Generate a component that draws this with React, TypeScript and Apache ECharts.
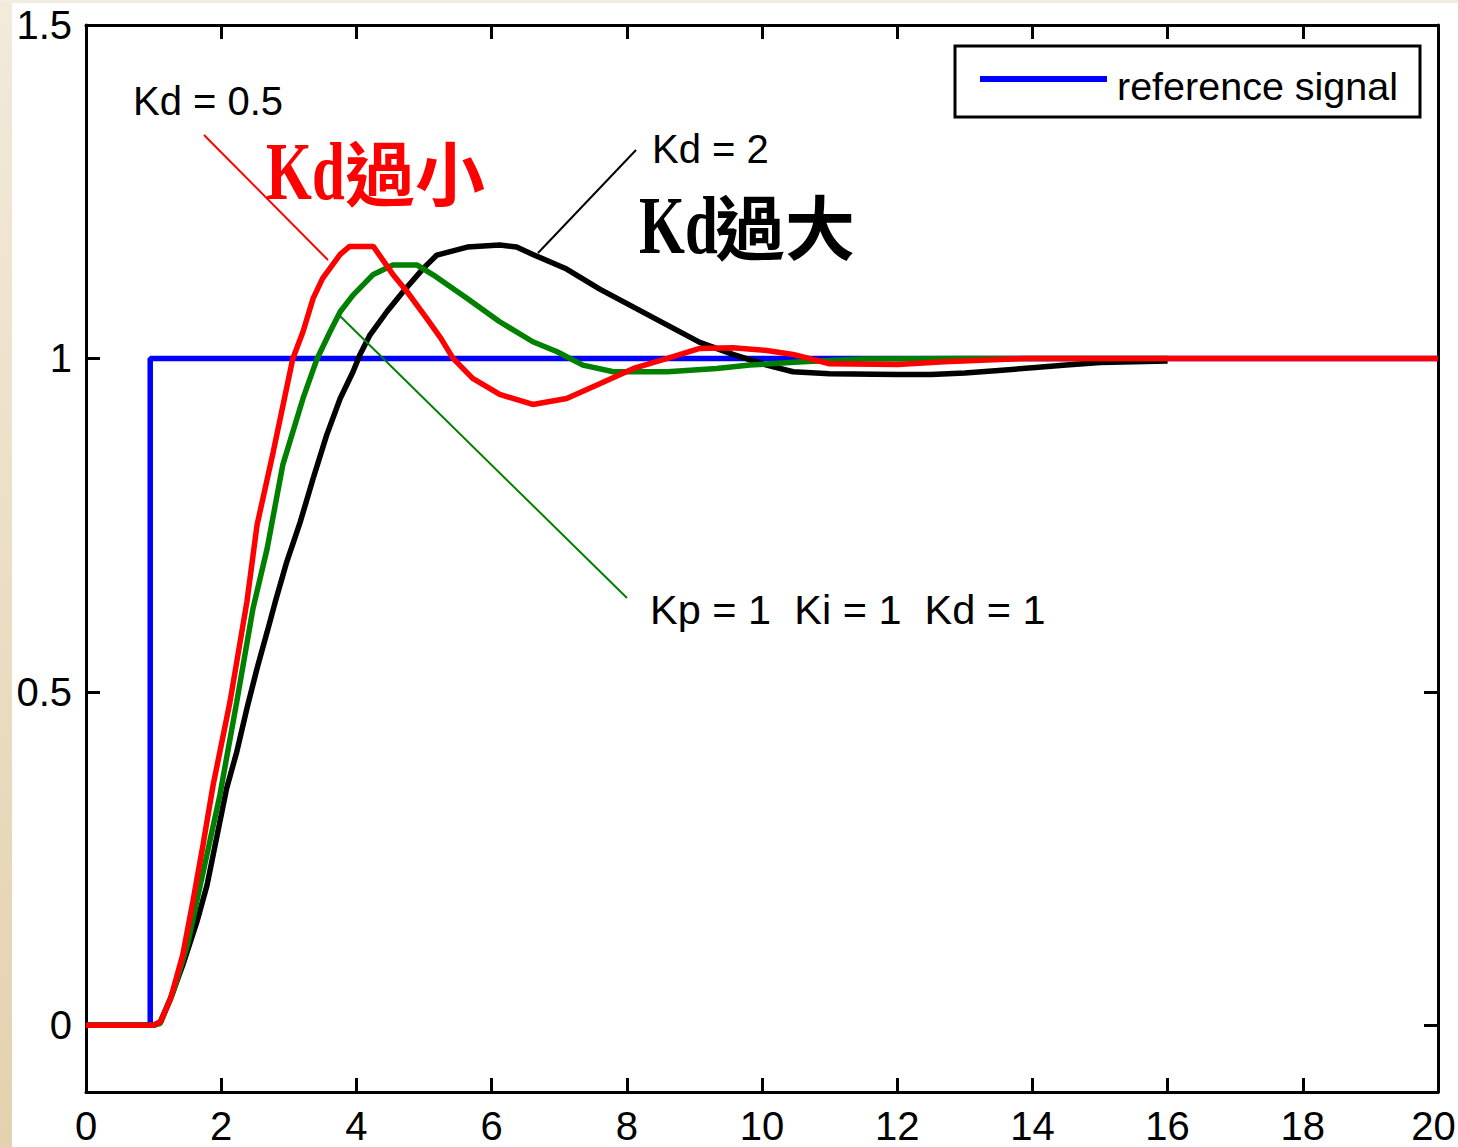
import React, { useEffect, useRef } from "react";
import * as echarts from "echarts";

// ---- data ----
const yTickValues = [0, 0.5, 1, 1.5];
const yTickLabels = ["0", "0.5", "1", "1.5"];

const refT = [0, 0.95, 0.95, 20];
const refV = [0, 0, 1, 1];

// Kd = 0.5 (red)
const kd05T = [0, 1, 1.1, 1.25, 1.43, 1.58, 1.73, 1.88, 2.13, 2.38, 2.53, 2.77, 3.06, 3.21, 3.36, 3.5, 3.76, 3.9, 4.25, 4.54, 4.75, 5.04, 5.25, 5.43, 5.72, 6.12, 6.61, 7.11, 7.6, 8.1, 8.6, 9.08, 9.57, 10.07, 10.46, 11, 12, 12.7, 13.9, 16, 20];
const kd05V = [0, 0, 0.005, 0.04, 0.105, 0.185, 0.27, 0.36, 0.485, 0.635, 0.75, 0.86, 1.0, 1.04, 1.09, 1.12, 1.156, 1.168, 1.168, 1.126, 1.1, 1.06, 1.03, 1.0, 0.97, 0.946, 0.931, 0.94, 0.962, 0.985, 1.0, 1.015, 1.016, 1.012, 1.006, 0.992, 0.991, 0.995, 1.0, 1.0, 1.0];

// Kd = 1 (green)
const kd1T = [0, 1, 1.1, 1.29, 1.5, 1.69, 1.98, 2.23, 2.47, 2.68, 2.91, 3.21, 3.42, 3.61, 3.76, 3.95, 4.25, 4.54, 4.9, 5.14, 5.64, 6.12, 6.61, 6.97, 7.35, 7.8, 8.6, 9.33, 9.82, 10.6, 11.5, 13, 16];
const kd1V = [0, 0, 0.003, 0.05, 0.12, 0.21, 0.345, 0.485, 0.625, 0.715, 0.84, 0.94, 1.0, 1.04, 1.07, 1.095, 1.126, 1.14, 1.14, 1.125, 1.09, 1.055, 1.025, 1.01, 0.99, 0.98, 0.98, 0.985, 0.99, 0.995, 0.999, 1.0, 1.0];

// Kd = 2 (black)
const kd2T = [0, 1, 1.1, 1.25, 1.43, 1.64, 1.79, 1.94, 2.08, 2.23, 2.38, 2.53, 2.68, 2.8, 2.97, 3.17, 3.36, 3.56, 3.76, 3.95, 4.05, 4.2, 4.45, 4.69, 4.99, 5.19, 5.64, 6.12, 6.37, 6.61, 7.11, 7.6, 8.1, 8.6, 9.08, 9.57, 10.07, 10.46, 11, 12, 12.5, 13, 13.5, 14, 14.5, 15, 16];
const kd2V = [0, 0, 0.005, 0.04, 0.09, 0.155, 0.21, 0.285, 0.355, 0.41, 0.475, 0.535, 0.59, 0.635, 0.695, 0.755, 0.82, 0.885, 0.94, 0.98, 1.005, 1.035, 1.07, 1.1, 1.135, 1.155, 1.167, 1.17, 1.167, 1.156, 1.134, 1.104, 1.077, 1.05, 1.024, 1.006, 0.99, 0.98, 0.977, 0.976, 0.976, 0.978, 0.982, 0.986, 0.99, 0.994, 0.996];

const zip = (t: number[], v: number[]) => t.map((x, i) => [x, v[i]]);

const FONT = "'Liberation Sans', Arial, sans-serif";
const X_MAX = 20;

export default function App() {
  const ref = useRef<HTMLDivElement>(null);
  useEffect(() => {
    if (!ref.current) return;
    const chart = echarts.init(ref.current, undefined, { renderer: "svg" });
    const axisLine = { show: true, onZero: false, lineStyle: { color: "#000", width: 3 } };
    const tick = { show: true, inside: true, length: 14, lineStyle: { color: "#000", width: 3 } };
    const lineSeries = (name: string, data: number[][], color: string, z: number) => ({
      name,
      type: "line",
      data,
      showSymbol: false,
      symbol: "none",
      z,
      lineStyle: { color, width: 5.5 },
      itemStyle: { color },
    });
    chart.setOption({
      animation: false,
      backgroundColor: "#ffffff",
      grid: { left: 86, right: 20, top: 25, bottom: 55, containLabel: false, outerBoundsMode: "none" },
      xAxis: [
        {
          type: "value", min: 0, max: X_MAX, interval: 2, position: "bottom",
          axisLine, axisTick: tick,
          axisLabel: {
            color: "#000", fontSize: 40, fontFamily: FONT, margin: 14, showMinLabel: true, showMaxLabel: true,
            formatter: (v: number) => (v === X_MAX ? `{last|${v}}` : String(v)),
            rich: { last: { color: "#000", fontSize: 40, fontFamily: FONT, padding: [0, 9, 0, 0] } },
          },
          splitLine: { show: false },
        },
        {
          type: "value", min: 0, max: X_MAX, interval: 2, position: "top",
          axisLine, axisTick: tick, axisLabel: { show: false }, splitLine: { show: false },
        },
      ],
      yAxis: [
        {
          type: "value", min: -0.1, max: 1.5, position: "left",
          axisLine, axisTick: { ...tick, customValues: yTickValues },
          axisLabel: {
            color: "#000", fontSize: 40, fontFamily: FONT, margin: 14,
            customValues: yTickValues,
            formatter: (v: number) => {
              const i = yTickValues.findIndex((t) => Math.abs(t - v) < 1e-9);
              return i >= 0 ? yTickLabels[i] : "";
            },
          },
          splitLine: { show: false },
        },
        {
          type: "value", min: -0.1, max: 1.5, position: "right",
          axisLine, axisTick: { ...tick, customValues: yTickValues },
          axisLabel: { show: false }, splitLine: { show: false },
        },
      ],
      series: [
        lineSeries("reference signal", zip(refT, refV), "#0000ff", 2),
        lineSeries("Kd = 2", zip(kd2T, kd2V), "#000000", 3),
        lineSeries("Kd = 1", zip(kd1T, kd1V), "#008000", 4),
        lineSeries("Kd = 0.5", zip(kd05T, kd05V), "#ff0000", 5),
      ],
      graphic: [
        // page border strips
        {
          type: "rect", z: -10, silent: true,
          shape: { x: 0, y: 0, width: 12, height: 1147 },
          style: {
            fill: new echarts.graphic.LinearGradient(0, 0, 0, 1, [
              { offset: 0, color: "#f2eadb" },
              { offset: 1, color: "#e4d2ae" },
            ]),
          },
        },
        { type: "rect", z: -10, silent: true, shape: { x: 0, y: 0, width: 1458, height: 3 }, style: { fill: "#f3ece0" } },
        // legend
        { type: "rect", z: 20, shape: { x: 955, y: 46, width: 465, height: 71 }, style: { fill: "#fff", stroke: "#000", lineWidth: 3 } },
        { type: "line", z: 21, shape: { x1: 980, y1: 79, x2: 1107, y2: 79 }, style: { stroke: "#0000ff", lineWidth: 6 } },
        { type: "text", z: 21, x: 1117, y: 86, style: { text: "reference signal", font: `39.5px ${FONT}`, fill: "#000", verticalAlign: "middle", align: "left" } },
        // pointer lines
        { type: "line", z: 15, shape: { x1: 204, y1: 135, x2: 328, y2: 260 }, style: { stroke: "#ff0000", lineWidth: 2 } },
        { type: "line", z: 15, shape: { x1: 636, y1: 150, x2: 538, y2: 253 }, style: { stroke: "#000000", lineWidth: 2 } },
        { type: "line", z: 15, shape: { x1: 340, y1: 316, x2: 627, y2: 598 }, style: { stroke: "#008000", lineWidth: 2 } },
        // small annotations
        { type: "text", z: 21, x: 133, y: 101, style: { text: "Kd = 0.5", font: `40px ${FONT}`, fill: "#000", verticalAlign: "middle" } },
        { type: "text", z: 21, x: 652, y: 149, style: { text: "Kd = 2", font: `40px ${FONT}`, fill: "#000", verticalAlign: "middle" } },
        { type: "text", z: 21, x: 650, y: 609, style: { text: "Kp = 1  Ki = 1  Kd = 1", font: `41.5px ${FONT}`, fill: "#000", verticalAlign: "middle" } },
        // big annotations
        { type: "text", z: 21, x: 266, y: 171, scaleX: 0.72, style: { text: "Kd", font: `bold 82px 'Liberation Serif', serif`, fill: "#ff0000", verticalAlign: "middle" } },
        { type: "text", z: 21, x: 345, y: 170, style: { text: "過小", font: `bold 70px 'Noto Sans CJK TC', sans-serif`, fill: "#ff0000", verticalAlign: "middle" } },
        { type: "text", z: 21, x: 639, y: 225, scaleX: 0.72, style: { text: "Kd", font: `bold 82px 'Liberation Serif', serif`, fill: "#000", verticalAlign: "middle" } },
        { type: "text", z: 21, x: 715, y: 224, style: { text: "過大", font: `bold 70px 'Noto Sans CJK TC', sans-serif`, fill: "#000", verticalAlign: "middle" } },
      ],
    });
    return () => chart.dispose();
  }, []);
  return (
    <div
      ref={ref}
      style={{ position: "absolute", left: 0, top: 0, width: 1458, height: 1147, background: "#fff" }}
    />
  );
}
